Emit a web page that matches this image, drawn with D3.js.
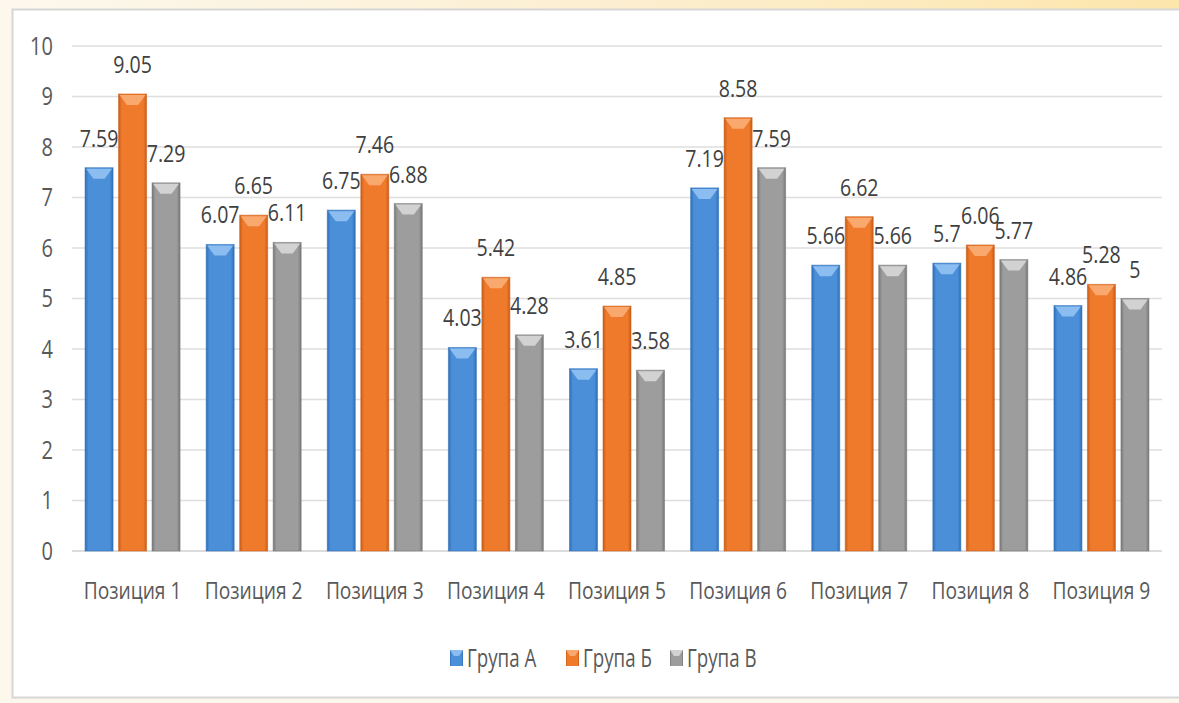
<!DOCTYPE html>
<html><head><meta charset="utf-8">
<script src="https://cdn.jsdelivr.net/npm/d3@7"></script>
<style>
html,body{margin:0;padding:0;background:#fdf7ec;}
svg{display:block;}
</style></head>
<body>
<svg id="c" width="1179" height="703"></svg>
<script>
const categories = ["Позиция 1","Позиция 2","Позиция 3","Позиция 4","Позиция 5","Позиция 6","Позиция 7","Позиция 8","Позиция 9"];
const seriesNames = ["Група А","Група Б","Група В"];
const grupaA = [7.59,6.07,6.75,4.03,3.61,7.19,5.66,5.7,4.86];
const grupaB = [9.05,6.65,7.46,5.42,4.85,8.58,6.62,6.06,5.28];
const grupaV = [7.29,6.11,6.88,4.28,3.58,7.59,5.66,5.77,5];
const yTicks = [0,1,2,3,4,5,6,7,8,9,10];
const colors = [
  {base:"#4a8fd8", light:"#8cbdf0", dark:"#2f6fb8"},
  {base:"#f07a2c", light:"#f9a86e", dark:"#c85d17"},
  {base:"#9d9d9d", light:"#d2d2d2", dark:"#777777"}
];
const series = [grupaA, grupaB, grupaV];

(function(){
const svg = d3.select("#c");
const font = "'Open Sans','Noto Sans',sans-serif";
const SX = 0.8;
const defs = svg.append("defs");
const tg = defs.append("linearGradient").attr("id","topband").attr("x1","0").attr("x2","1");
tg.append("stop").attr("offset","0").attr("stop-color","#fdf8ee");
tg.append("stop").attr("offset","0.5").attr("stop-color","#fcefd2");
tg.append("stop").attr("offset","1").attr("stop-color","#fde6ac");
svg.append("rect").attr("x",0).attr("y",0).attr("width",1179).attr("height",10).attr("fill","url(#topband)");
svg.append("rect").attr("x",12.5).attr("y",9.5).attr("width",1180).attr("height",688).attr("fill","#ffffff").attr("stroke","#d6d6d6").attr("stroke-width",2);

colors.forEach((c,i)=>{
  const g = defs.append("linearGradient").attr("id","bar"+i).attr("x1","0").attr("x2","1");
  g.append("stop").attr("offset","0").attr("stop-color",c.dark);
  g.append("stop").attr("offset","0.12").attr("stop-color",c.base);
  g.append("stop").attr("offset","0.5").attr("stop-color",c.base);
  g.append("stop").attr("offset","0.88").attr("stop-color",c.base);
  g.append("stop").attr("offset","1").attr("stop-color",c.dark);
});

const pL = 72, pR = 1162, pT = 46, pB = 551;
const x = d3.scaleBand().domain(categories).range([pL,pR]).paddingInner(0).paddingOuter(0);
const inner = d3.scaleBand().domain([0,1,2]).range([0, x.bandwidth()]).paddingInner(0.164).paddingOuter(0.39);
const y = d3.scaleLinear().domain([0,10]).range([pB,pT]);

svg.append("g").selectAll("line").data(yTicks).join("line")
  .attr("x1",pL).attr("x2",pR)
  .attr("y1",d=>y(d)).attr("y2",d=>y(d))
  .attr("stroke",d=>d===0?"#d0d0d0":"#dedede").attr("stroke-width",1.5);

const yAxis = d3.axisLeft(y).tickValues(yTicks).tickSize(0).tickPadding(24).tickFormat(d3.format("d"));
const ya = svg.append("g").attr("transform",`translate(${pL},0)`).call(yAxis);
ya.select(".domain").remove();
ya.selectAll("text").attr("font-family",font).attr("font-size",25).attr("fill","#595959")
  .attr("transform",`scale(${SX},1)`);

const xAxis = d3.axisBottom(x).tickSize(0).tickPadding(31);
const xa = svg.append("g").attr("transform",`translate(0,${pB})`).call(xAxis);
xa.select(".domain").remove();
xa.selectAll("text").attr("font-family",font).attr("font-size",24).attr("fill","#595959")
  .attr("transform",`scale(${SX},1)`);

const bars = svg.append("g");
series.forEach((vals,si)=>{
  const c = colors[si];
  const g = bars.append("g");
  vals.forEach((v,ci)=>{
    const bx = x(categories[ci]) + inner(si);
    const bw = inner.bandwidth();
    const by = y(v);
    const bh = y(0)-by;
    g.append("rect").attr("x",bx).attr("y",by).attr("width",bw).attr("height",bh).attr("fill",`url(#bar${si})`);
    const bev = Math.min(11, bh);
    g.append("polygon")
      .attr("points",[[bx+1,by+1],[bx+bw-1,by+1],[bx+bw*0.7,by+bev],[bx+bw*0.3,by+bev]].map(p=>p.join(",")).join(" "))
      .attr("fill",c.light);
    g.append("rect").attr("x",bx).attr("y",by).attr("width",bw).attr("height",bh)
      .attr("fill","none").attr("stroke",c.dark).attr("stroke-opacity",0.55).attr("stroke-width",1);
  });
});

const labels = svg.append("g");
series.forEach((vals,si)=>{
  vals.forEach((v,ci)=>{
    const cx = x(categories[ci]) + inner(si) + inner.bandwidth()/2;
    labels.append("text").attr("transform",`translate(${cx},${y(v)-21}) scale(0.85,1)`)
      .attr("text-anchor","middle").attr("font-family",font).attr("font-size",23).attr("fill","#404040")
      .text(String(v));
  });
});

const legendX = [450, 566, 670];
const lg = svg.append("g");
seriesNames.forEach((n,i)=>{
  const c = colors[i];
  const gx = legendX[i];
  lg.append("rect").attr("x",gx).attr("y",650).attr("width",13).attr("height",16).attr("fill",`url(#bar${i})`);
  lg.append("polygon").attr("points",`${gx},650 ${gx+13},650 ${gx+9},656 ${gx+4},656`).attr("fill",c.light);
  lg.append("text").attr("transform",`translate(${gx+17},667) scale(0.72,1)`).attr("font-family",font).attr("font-size",26).attr("fill","#595959").text(n);
});
})();
</script>
</body></html>
